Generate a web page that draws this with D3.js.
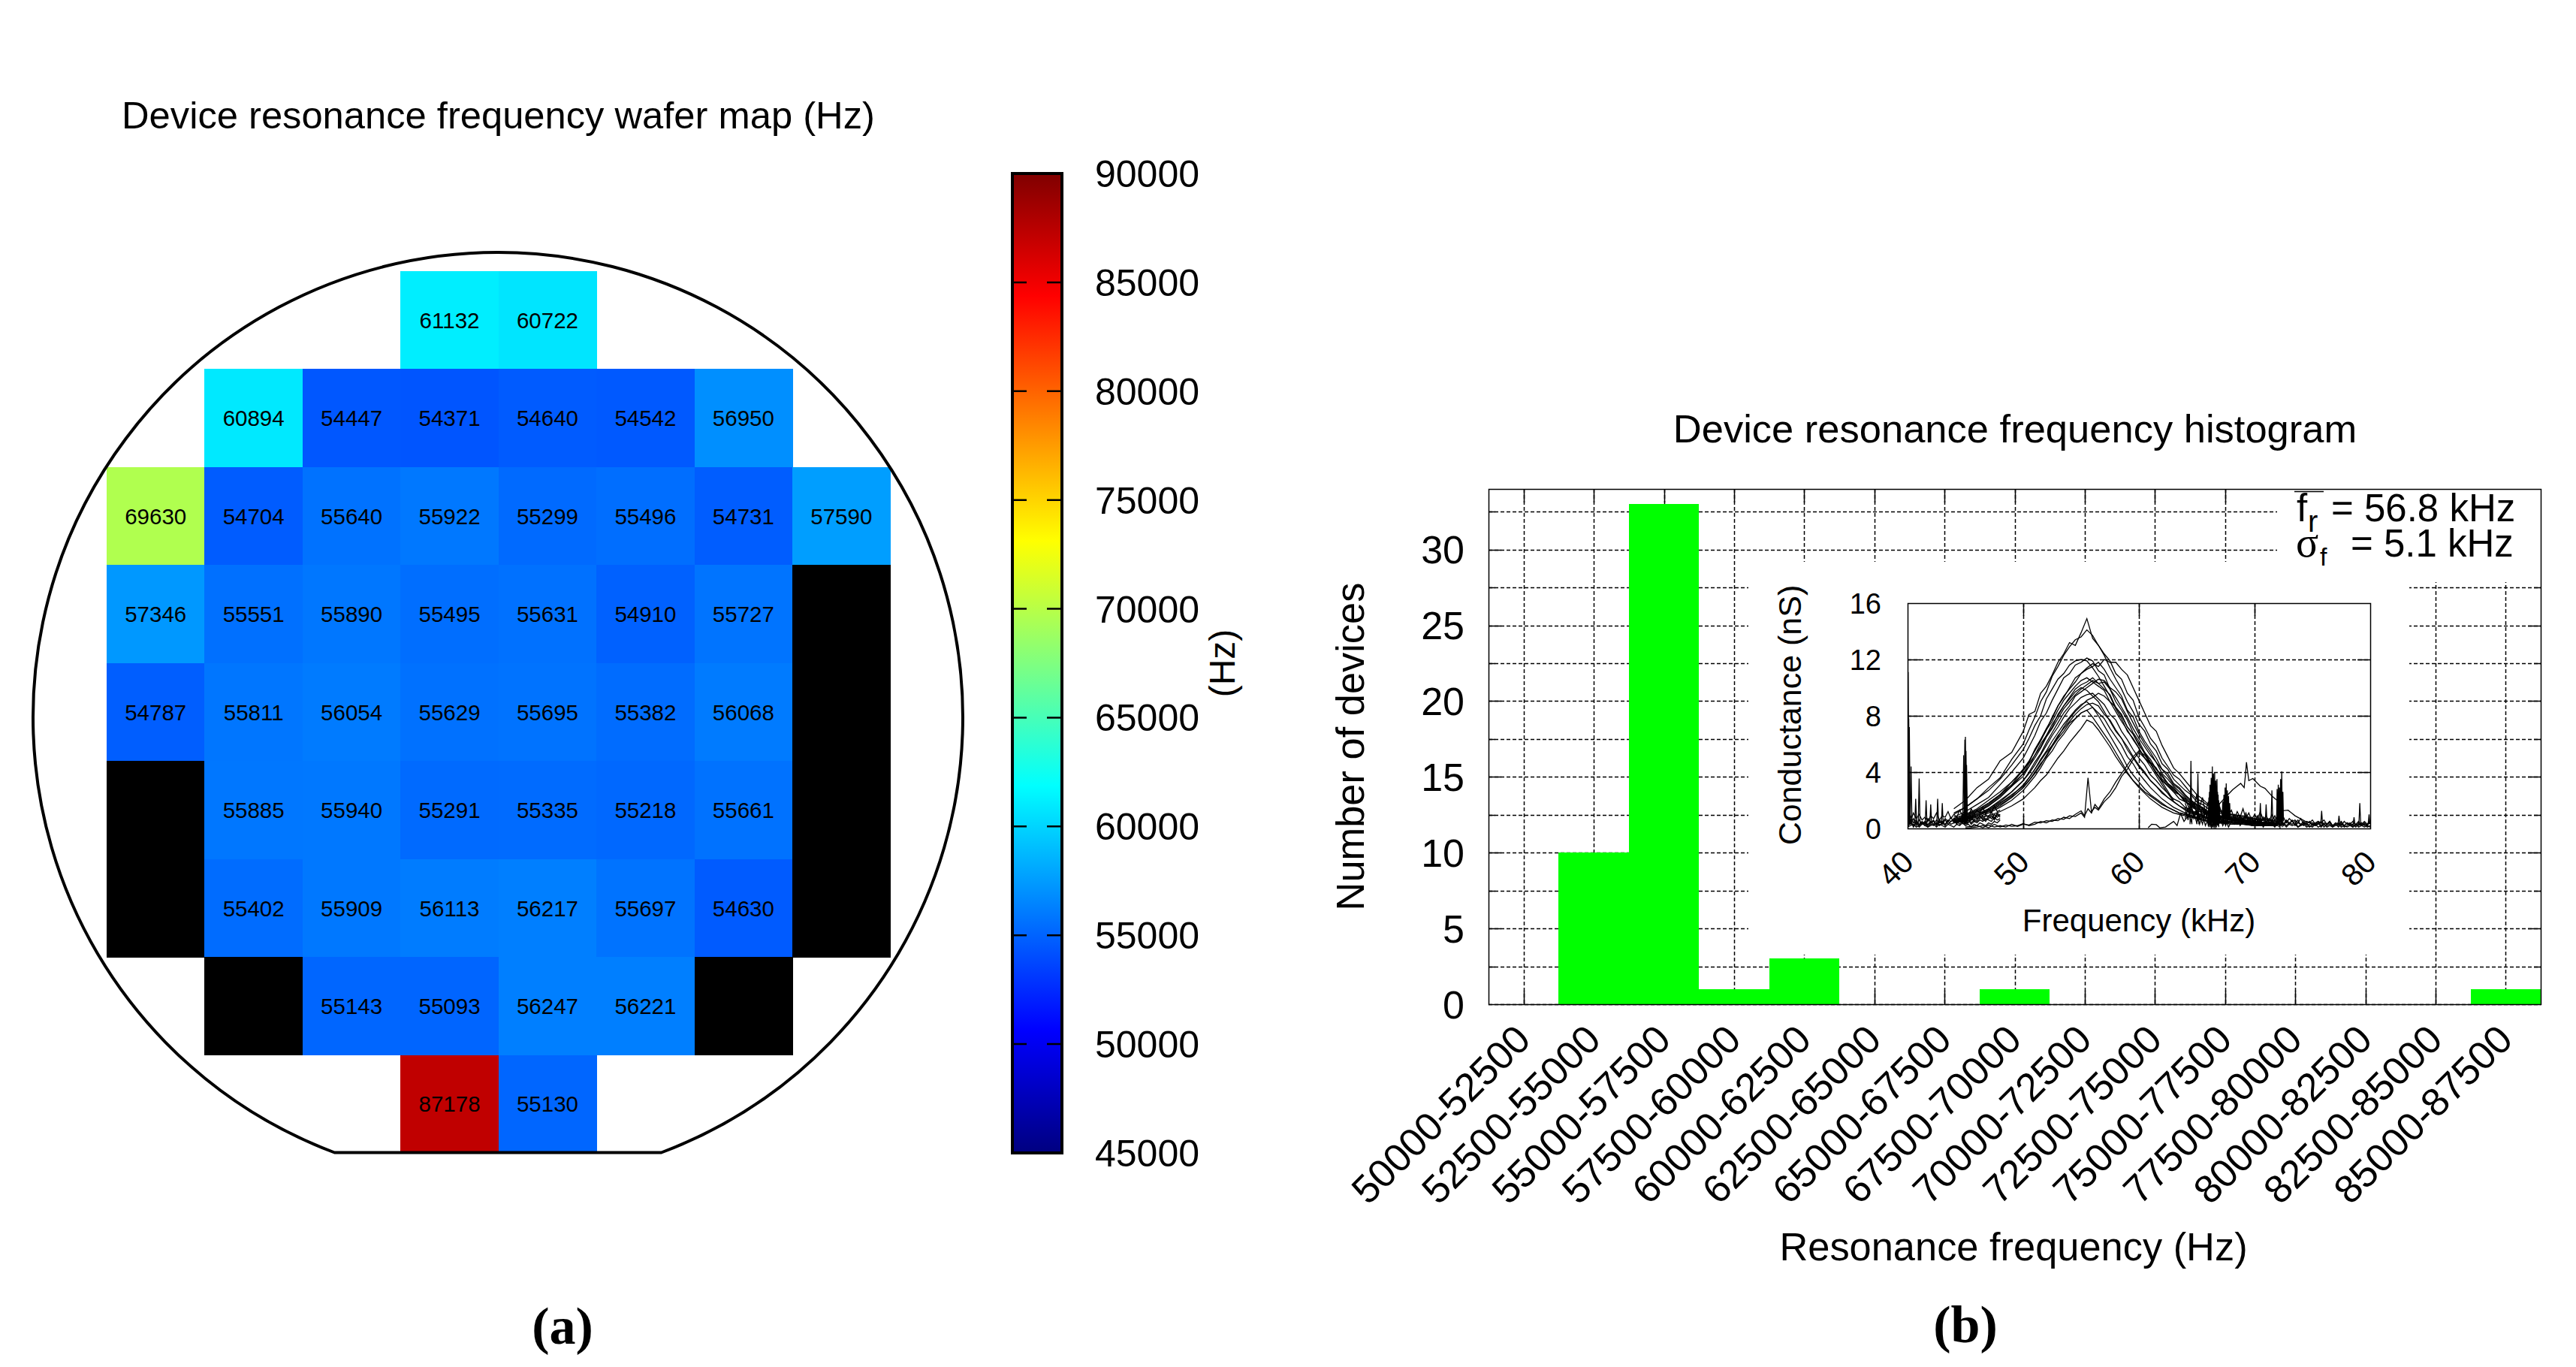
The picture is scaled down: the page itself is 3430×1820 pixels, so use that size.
<!DOCTYPE html>
<html><head><meta charset="utf-8">
<script src="https://cdn.jsdelivr.net/npm/d3@7"></script>
<style>
html,body{margin:0;padding:0;background:#fff}
text{font-family:"Liberation Sans",Arial,sans-serif;fill:#000}
</style></head><body>
<svg id="c" width="3430" height="1820" xmlns="http://www.w3.org/2000/svg"></svg>
<script>
// ---- wafer map data (null = no device, -1 = dead device drawn black)
const row0=[null,null,null,61132,60722,null,null,null];
const row1=[null,60894,54447,54371,54640,54542,56950,null];
const row2=[69630,54704,55640,55922,55299,55496,54731,57590];
const row3=[57346,55551,55890,55495,55631,54910,55727,-1];
const row4=[54787,55811,56054,55629,55695,55382,56068,-1];
const row5=[-1,55885,55940,55291,55335,55218,55661,-1];
const row6=[-1,55402,55909,56113,56217,55697,54630,-1];
const row7=[null,-1,55143,55093,56247,56221,-1,null];
const row8=[null,null,null,87178,55130,null,null,null];
const waferRows=[row0,row1,row2,row3,row4,row5,row6,row7,row8];
const colorTicks=[45000,50000,55000,60000,65000,70000,75000,80000,85000,90000];
const jetStops=[45000,50625,61875,73125,84375,90000];
const jetColors=["#000080","#0000ff","#00ffff","#ffff00","#ff0000","#800000"];

// ---- histogram data
const histBins=["50000-52500","52500-55000","55000-57500","57500-60000","60000-62500","62500-65000","65000-67500","67500-70000","70000-72500","72500-75000","75000-77500","77500-80000","80000-82500","82500-85000","85000-87500"];
const histCounts=[0,10,33,1,3,0,0,1,0,0,0,0,0,0,1];
const histYMajor=[0,5,10,15,20,25,30];
const histYMinor=[2.5,7.5,12.5,17.5,22.5,27.5,32.5];

// ---- inset data (kHz, nS)
const insetXTicks=[40,50,60,70,80];
const insetYTicks=[0,4,8,12,16];
const mainF=[44,45,46,47,48,49,50,50.5,51,51.5,52,52.5,53,53.5,54,54.5,55,55.5,56,56.5,57,57.5,58,58.5,59,59.5,60,60.5,61,61.5,62,62.5,63,63.5,64,64.5,65,65.5,66,67,68,69,70,71,72];
const c1=[1.4,2.0,2.9,3.5,4.8,5.4,6.9,8.1,8.3,9.6,10.1,10.9,11.8,12.4,13.2,13.0,13.9,14.9,13.5,13.0,12.4,11.9,11.0,10.6,9.6,9.1,7.9,7.2,6.4,5.9,5.0,4.4,3.8,3.5,3.0,2.5,2.1,1.9,1.6,1.2,1.0,.8,.6,.7,.5];
const c2=[1.0,1.5,2.1,2.9,3.6,4.9,6.0,7.0,7.9,9.0,9.7,10.8,11.5,12.3,12.9,13.4,13.6,14.1,13.7,13.0,12.3,11.4,10.6,9.9,9.0,8.3,7.4,6.9,6.0,5.5,4.6,4.2,3.5,3.1,2.7,2.4,1.9,1.7,1.4,1.1,.9,.7,.7,.5,.4];
const c3=[.7,1.0,1.3,1.8,2.4,3.1,4.2,4.7,5.6,6.3,7.0,7.9,8.7,9.3,10.0,10.7,11.0,11.4,11.7,11.5,12.0,11.8,11.8,11.3,10.9,10.0,9.1,8.2,7.3,6.9,5.9,5.1,4.3,3.9,3.4,2.9,2.4,2.1,1.7,1.3,1.0,.9,.7,.6,.5];
const c4=[1.1,1.5,2.1,2.7,3.5,4.5,5.6,6.4,7.3,8.0,9.2,9.9,10.6,11.0,11.6,11.9,12.0,11.9,11.4,10.8,10.1,9.4,8.5,7.8,6.9,6.4,5.7,5.0,4.6,4.0,3.4,3.1,2.6,2.4,1.9,1.6,1.4,1.2,.9,.8,.7,.5,.5,.4,.3];
const c5=[.8,1.2,1.7,2.2,3.1,4.0,5.0,5.8,6.6,7.6,8.2,9.1,9.9,10.7,11.0,11.6,11.8,12.1,11.9,11.2,10.9,9.9,9.0,8.4,7.7,6.8,6.2,5.4,4.9,4.2,3.8,3.2,2.9,2.4,2.1,1.8,1.5,1.3,1.1,.8,.7,.6,.5,.4,.3];
const c6=[.6,.9,1.3,1.8,2.4,3.3,4.1,4.7,5.6,6.3,7.1,7.8,8.7,9.4,9.9,10.4,11.0,11.3,11.5,11.8,11.3,10.6,10.0,9.4,8.4,7.9,6.9,6.2,5.6,5.0,4.2,3.9,3.2,2.9,2.4,2.0,1.7,1.5,1.2,.9,.8,.6,.5,.4,.4];
const c7=[.7,1.0,1.4,2.0,2.6,3.3,4.2,4.8,5.5,6.2,7.0,7.6,8.4,9.1,9.6,10.1,10.5,10.7,10.4,10.1,9.8,9.0,8.3,7.6,7.0,6.3,5.7,5.0,4.6,3.9,3.4,3.0,2.6,2.1,1.9,1.6,1.3,1.1,.9,.7,.6,.5,.4,.4,.3];
const c8=[.6,.8,1.1,1.6,2.2,3.0,3.9,4.4,5.2,5.8,6.6,7.2,8.1,8.7,9.3,9.9,10.2,10.4,10.7,10.3,9.9,9.5,8.6,8.1,7.2,6.7,5.9,5.4,4.7,4.3,3.5,3.2,2.7,2.4,1.9,1.7,1.4,1.2,1.0,.8,.6,.5,.4,.3,.3];
const c9=[.5,.8,1.0,1.4,2.0,2.6,3.4,4.0,4.7,5.3,6.1,6.8,7.5,8.2,8.7,9.4,9.7,10.0,10.3,10.6,10.5,10.0,9.7,9.2,8.3,7.5,6.7,6.0,5.4,4.7,4.2,3.7,3.1,2.8,2.3,2.0,1.7,1.4,1.1,.9,.7,.6,.5,.4,.3];
const c10=[.6,.9,1.2,1.7,2.4,3.1,3.9,4.6,5.2,6.0,6.6,7.4,8.0,8.7,9.2,9.7,10.0,9.8,9.4,9.0,8.3,7.6,6.9,6.4,5.6,5.0,4.4,3.9,3.4,3.0,2.5,2.2,1.9,1.6,1.4,1.1,1.0,.8,.7,.5,.5,.4,.3,.3,.2];
const c11=[.5,.7,1.0,1.4,1.9,2.6,3.4,3.9,4.5,5.2,5.9,6.6,7.2,7.9,8.5,8.9,9.3,9.5,9.6,9.2,8.8,8.1,7.7,6.9,6.3,5.6,5.0,4.5,3.8,3.4,2.9,2.5,2.1,1.9,1.5,1.3,1.1,.9,.8,.6,.5,.4,.4,.3,.2];
const c12=[.4,.6,.9,1.2,1.7,2.2,2.9,3.4,3.9,4.5,5.2,5.9,6.5,7.2,7.8,8.3,8.7,9.1,9.3,9.6,9.4,9.0,8.6,8.0,7.2,6.7,6.0,5.3,4.7,4.2,3.7,3.2,2.8,2.4,2.0,1.8,1.5,1.3,1.0,.8,.6,.5,.4,.3,.3];
const c13=[.5,.7,1.0,1.3,1.8,2.4,3.0,3.6,4.2,4.9,5.5,6.2,6.8,7.4,7.9,8.4,8.8,9.0,8.6,8.0,7.3,6.6,5.9,5.2,4.4,3.8,3.3,2.8,2.4,2.1,1.8,1.5,1.3,1.1,1.0,.9,.7,.6,.5,.5,.4,.3,.3,.2,.2];
const c14=[.4,.6,.8,1.1,1.5,2.0,2.7,3.2,3.7,4.3,5.0,5.5,6.2,6.7,7.3,7.8,8.2,8.4,8.6,8.2,7.8,7.1,6.5,5.9,5.1,4.6,3.9,3.4,2.9,2.5,2.1,1.8,1.5,1.3,1.1,.9,.8,.7,.5,.4,.4,.3,.2,.2,.2];
const c15=[.5,.6,.9,1.2,1.6,2.2,2.9,3.4,4.0,4.6,5.1,5.8,6.4,6.9,7.5,7.8,8.2,8.4,7.9,7.3,6.7,6.1,5.4,4.7,4.0,3.4,2.9,2.5,2.1,1.8,1.5,1.3,1.1,1.0,.9,.8,.7,.6,.5,.4,.3,.3,.2,.2,.2];
const c16=[.4,.5,.7,.9,1.2,1.6,2.1,2.5,2.9,3.4,3.8,4.4,5.0,5.5,6.1,6.6,7.1,7.7,7.5,7.0,6.4,5.8,5.1,4.5,3.9,3.4,3.0,2.6,2.3,2.0,1.7,1.5,1.3,1.1,1.0,.9,.8,.6,.5,.4,.4,.3,.3,.2,.2];
const c17=[.6,.8,1.2,1.6,2.3,3.0,3.7,4.4,5.0,5.7,6.5,7.1,7.8,8.5,9.0,9.5,9.9,10.2,10.5,10.3,10.4,9.9,9.3,8.6,7.9,7.1,6.4,5.8,5.2,4.7,3.9,3.5,3.0,2.6,2.2,1.9,1.6,1.4,1.2,.9,.7,.6,.5,.4,.3];
const c18=[.4,.7,.9,1.3,1.8,2.3,3.1,3.6,4.2,4.8,5.4,5.9,6.6,7.1,7.6,8.1,8.5,8.8,8.9,8.7,8.1,7.7,7.0,6.4,5.8,5.1,4.5,4.0,3.4,3.0,2.6,2.2,1.9,1.6,1.3,1.2,1.0,.8,.7,.5,.4,.4,.3,.3,.2];
const mainCurves=[c1,c2,c3,c4,c5,c6,c7,c8,c9,c10,c11,c12,c13,c14,c15,c16,c17,c18];

// two late-resonating devices
const lateF=[45,46,46.5,47,47.5,48,48.5,49,49.5,50,50.5,51,51.5,52,52.5,53,53.5,54,54.5,55,55.3,55.6,55.9,56.2,56.5,57,57.5,58,58.5,59,59.5,60,60.5,61,62,63];
const lateA=[.1,.2,.05,.25,.1,.2,.1,.3,.15,.3,.25,.45,.4,.55,.5,.7,.65,.9,.85,1.1,.8,3.6,1.2,1.5,1.3,1.9,2.3,2.9,3.7,4.2,4.9,5.4,5.0,4.4,3.1,1.9];
const lateB=[0,.1,.2,.05,.3,.1,.25,.15,.2,.35,.2,.3,.5,.4,.6,.55,.8,.7,1.0,1.25,.9,1.4,1.1,1.7,1.4,2.1,2.6,3.3,3.9,4.5,5.1,5.5,5.2,4.6,3.3,2.0];
// device near 70 kHz
const highF=[60.8,61.1,61.5,61.8,62.3,63,63.3,63.6,63.9,64.4,64.9,65.5,66.2,66.8,67.7,68.1,68.8,69.1,69.2,69.3,69.5,69.85,70.5,70.9,71.5,71.8,72,72.3,72.9,73.5,74.4,75.5];
const highV=[.05,.3,.27,.05,.1,.5,.2,1.07,.5,1.07,1.2,.9,1.3,1.6,2.4,2.75,3.2,2.9,3.7,4.7,3.4,3.55,3.0,2.85,2.3,2.1,1.95,1.25,1.3,.9,.5,.3];

// baseline noise below 48 kHz
const lowF=[40,40.25,40.5,40.75,41,41.25,41.5,41.75,42,42.25,42.5,42.75,43,43.25,43.5,43.75,44,44.25,44.5,44.75,45,45.25,45.5,45.75,46,46.25,46.5,46.75,47,47.25,47.5,47.75,48];
const n1=[.3,.9,.4,.6,.2,.5,.3,.7,.4,.5,.3,.6,.4,.7,.5,.8,.4,.7,.6,.9,.5,.8,.6,1.0,.7,.9,.6,1.0,.8,1.2,.7,1.1,.9];
const n2=[.1,.4,.2,.5,.3,.4,.2,.3,.5,.3,.6,.4,.5,.3,.6,.5,.7,.4,.5,.7,.6,.4,.8,.5,.6,.9,.7,.5,.9,.7,1.0,.8,1.0];
const n3=[.6,.3,.7,.2,.6,.3,.5,.2,.4,.6,.2,.5,.3,.6,.3,.5,.6,.3,.7,.4,.6,.8,.4,.6,.5,.7,.9,.6,.7,.9,.6,1.0,.8];
const n4=[.2,.6,.1,.4,.1,.3,.4,.1,.3,.2,.4,.2,.4,.2,.5,.3,.4,.5,.3,.5,.4,.6,.3,.5,.4,.6,.5,.7,.6,.5,.8,.6,.7];
const n5=[.9,.5,1.1,.7,1.0,.6,.8,.5,.9,.7,1.1,.6,.9,.8,1.2,.7,1.0,.8,1.3,.9,1.2,.8,1.4,1.0,1.3,1.1,1.5,1.0,1.4,1.1,1.6,1.2,1.3];
const n6=[.1,.2,.3,.1,.2,.4,.2,.1,.2,.3,.1,.3,.2,.1,.3,.2,.1,.3,.2,.4,.2,.3,.1,.3,.2,.4,.3,.2,.4,.3,.5,.4,.6];
const lowNoise=[n1,n2,n3,n4,n5,n6];

// baseline noise above 64 kHz
const tailF=[64,64.25,64.5,64.75,65,65.25,65.5,65.75,66,66.25,66.5,66.75,67,67.25,67.5,67.75,68,68.25,68.5,68.75,69,69.25,69.5,69.75,70,70.25,70.5,70.75,71,71.25,71.5,71.75,72,72.25,72.5,72.75,73,73.25,73.5,73.75,74,74.25,74.5,74.75,75,75.25,75.5,75.75,76,76.25,76.5,76.75,77,77.25,77.5,77.75,78,78.25,78.5,78.75,79,79.25,79.5,79.75,80];
const h1=[1.8,1.2,2.1,1.4,2.4,1.5,2.2,1.1,1.9,1.0,1.7,.9,1.5,.8,1.6,.9,1.3,.7,1.2,.8,1.4,.7,1.1,.6,1.0,.7,1.2,.6,.9,.5,1.0,.6,.9,.5,.8,.4,.7,.5,.6,.4,.7,.3,.5,.4,.6,.3,.5,.4,.6,.3,.5,.2,.4,.3,.5,.2,.4,.3,.5,.2,.4,.3,.5,.3,.6];
const h2=[1.2,.8,1.6,.9,1.3,.7,1.5,.6,1.2,.5,1.0,.4,.9,.5,1.1,.4,.8,.5,.9,.3,.7,.4,.8,.3,.6,.4,.7,.2,.5,.3,.6,.2,.5,.3,.4,.2,.4,.3,.5,.1,.3,.2,.4,.1,.3,.2,.4,.1,.3,.2,.3,.1,.3,.2,.4,.1,.2,.3,.1,.3,.2,.4,.2,.3,.4];
const h3=[.7,1.4,.5,1.1,.4,.9,.3,1.3,.2,.8,.3,1.1,.4,.7,.2,.9,.5,.6,.3,.8,.4,.9,.5,.7,.3,.6,.4,.8,.3,.5,.2,.6,.3,.7,.2,.5,.3,.6,.2,.4,.3,.5,.2,.3,.4,.2,.3,.5,.1,.3,.4,.2,.3,.1,.3,.2,.4,.2,.3,.1,.3,.2,.3,.1,.2];
const h4=[1.5,.6,1.9,.7,1.2,.3,1.0,.2,.7,.1,.6,.3,.8,.2,.6,.1,.5,.3,.7,.2,.5,.3,.6,.2,.4,.2,.5,.1,.4,.2,.3,.1,.4,.2,.3,.1,.3,.2,.3,.1,.2,.3,.1,.2,.1,.3,.1,.2,.3,.1,.2,.1,.2,.3,.1,.2,.1,.2,.1,.3,.1,.2,.1,.2,.1];
const h5=[2.2,1.6,1.3,1.8,1.0,1.4,.8,1.2,.6,1.1,.8,1.3,.6,1.0,.7,1.2,.6,1.0,.5,.9,.6,1.1,.5,.8,.4,.9,.5,.8,.4,.7,.5,.9,.4,.7,.3,.6,.4,.5,.3,.6,.2,.4,.3,.5,.2,.4,.5,.2,.4,.3,.5,.2,.3,.4,.2,.5,.3,.4,.2,.3,.5,.2,.4,.2,.5];
const tailNoise=[h1,h2,h3,h4,h5];

// dense bursts
const burstAF=[66,66.05,66.1,66.15,66.2,66.25,66.3,66.35,66.4,66.45,66.5,66.55,66.6,66.65,66.7,66.75,66.8,66.85,66.9,66.95,67];
const burstA=[.3,2.2,.1,3.1,.2,3.6,0,4.4,.1,3.9,0,4.0,.2,3.4,.1,3.5,.2,2.4,.1,1.8,.4];
const burstA2=[1.5,.2,2.6,.3,3.0,.1,3.4,.4,3.6,.2,3.3,.1,3.0,0,2.9,.3,2.6,.2,2.0,.4,1.4];
const burstBF=[67.2,67.25,67.3,67.35,67.4,67.45,67.5,67.55,67.6,67.65,67.7,67.75,67.8,67.85,67.9];
const burstB=[.8,1.9,.4,2.4,.5,2.9,.6,3.2,.4,2.7,.5,2.3,.6,1.8,.7];
const burstCF=[71.9,71.95,72,72.05,72.1,72.15,72.2,72.25,72.3,72.35,72.4,72.45,72.5];
const burstC=[.3,2.8,.2,3.1,.1,2.9,0,3.5,.2,4.05,.1,2.6,.5];
const spikeF=[40.05,40.1,40.15,40.3,40.7,41,41.6,42,42.6,43,44.85,44.95,45,45.05,45.1,64.5,65.1,70.5,71,71.5,75.8,77.3,78.6,79.1,79.9];
const spikeV=[11.1,7.8,7.2,4.4,2.1,3.55,2,1.7,2.1,1.8,5.2,6.3,6.5,5.5,4.5,4.8,3.9,1.8,1.7,2.7,1.25,.9,.8,1.8,1];

// ---- drawing
const svg=d3.select("#c");
const px=v=>Math.round(v)+.5;
const label=(x,y,t,size,anchor,rot)=>{
  const e=svg.append("text").attr("text-anchor",anchor||"start").style("font-size",size+"px").text(t);
  e.attr("transform",`translate(${x},${y})`+(rot?` rotate(${rot})`:""));
  return e;
};

// (a) wafer
const jet=d3.scaleLinear().domain(jetStops).range(jetColors).clamp(true);
const wx=d3.scaleBand().domain(d3.range(8)).range([142,1185.5]);
const wy=d3.scaleBand().domain(d3.range(9)).range([361,1535]);
const cells=waferRows.flatMap((r,j)=>r.map((v,i)=>({i,j,v}))).filter(d=>d.v!==null);
const gw=svg.append("g");
gw.selectAll("rect").data(cells).join("rect")
  .attr("x",d=>wx(d.i)).attr("y",d=>wy(d.j)).attr("width",wx.bandwidth()+.5).attr("height",wy.bandwidth()+.5)
  .attr("fill",d=>d.v<0?"#000":jet(d.v)).attr("shape-rendering","crispEdges");
gw.selectAll("text").data(cells.filter(d=>d.v>0)).join("text")
  .attr("x",d=>wx(d.i)+wx.bandwidth()/2).attr("y",d=>wy(d.j)+wy.bandwidth()/2).attr("dy",".36em")
  .attr("text-anchor","middle").style("font-size","29.5px").text(d=>d.v);
// outline: circle with a flat at the bottom
const cx=663,cy=955,R=619,flat=1534.5;
const a0=Math.asin((flat-cy)/R);
const op=d3.path();
op.arc(cx,cy,R,a0,Math.PI-a0,true);
op.closePath();
svg.append("path").attr("d",op.toString()).attr("fill","none").attr("stroke","#000").attr("stroke-width",4);
label(162,171,"Device resonance frequency wafer map (Hz)",50.7);

// colour bar
const yC=d3.scaleLinear().domain([45000,90000]).range([1535,231]);
const defs=svg.append("defs");
const grad=defs.append("linearGradient").attr("id","jet").attr("x1",0).attr("x2",0).attr("y1",1).attr("y2",0);
grad.selectAll("stop").data(jetStops).join("stop")
  .attr("offset",d=>(d-45000)/45000).attr("stop-color",d=>jet(d));
svg.append("rect").attr("x",1348).attr("y",yC(90000)).attr("width",66).attr("height",yC(45000)-yC(90000))
  .attr("fill","url(#jet)").attr("stroke","#000").attr("stroke-width",4);
const inner=colorTicks.slice(1,-1);
svg.append("g").selectAll("path").data(inner).join("path")
  .attr("d",d=>`M1350,${yC(d)}H1367M1394,${yC(d)}H1412`).attr("stroke","#000").attr("stroke-width",2.5);
const cAxis=svg.append("g").attr("transform","translate(1458,0)")
  .call(d3.axisRight(yC).tickValues(colorTicks).tickFormat(d3.format("d")).tickSize(0).tickPadding(0));
cAxis.select(".domain").remove();
cAxis.selectAll("text").attr("fill","#000").attr("dy",".35em").style("font-size","50px").style("font-family","Liberation Sans");
label(1644,883,"(Hz)",48,"middle",-90);

// (b) histogram
const hx=d3.scaleBand().domain(histBins).range([1982,3383]);
const hy=d3.scaleLinear().domain([0,34]).range([1337,651]);
const gridStyle=s=>s.attr("stroke","#000").attr("stroke-width",1.5).attr("stroke-dasharray","5 3").attr("fill","none");
const tickStyle=s=>s.attr("stroke","#000").attr("stroke-width",1.5).attr("fill","none");
const allY=histYMajor.concat(histYMinor);
svg.append("g").selectAll("path").data(allY).join("path")
  .attr("d",d=>`M1982,${px(hy(d))}H3383`).call(gridStyle);
svg.append("g").selectAll("path").data(histBins).join("path")
  .attr("d",d=>`M${px(hx(d)+hx.bandwidth()/2)},651V1337`).call(gridStyle);
svg.append("g").selectAll("path").data(allY.filter(d=>d>0)).join("path")
  .attr("d",d=>{const l=histYMajor.includes(d)?17:9;return `M1982,${px(hy(d))}h${l}M3383,${px(hy(d))}h${-l}`;}).call(tickStyle);
svg.append("g").selectAll("path").data(histBins).join("path")
  .attr("d",d=>{const x=px(hx(d)+hx.bandwidth()/2);return `M${x},651v18M${x},1337v-18`;}).call(tickStyle);
// white patches behind inset and statistics
svg.append("rect").attr("x",2328).attr("y",748).attr("width",880).attr("height",523).attr("fill","#fff");
svg.append("rect").attr("x",3032).attr("y",652).attr("width",351).attr("height",123).attr("fill","#fff");
svg.append("g").selectAll("rect").data(histCounts.map((v,i)=>({v,b:histBins[i]})).filter(d=>d.v>0)).join("rect")
  .attr("x",d=>hx(d.b)).attr("y",d=>hy(d.v)).attr("width",hx.bandwidth()).attr("height",d=>hy(0)-hy(d.v))
  .attr("fill","#00ff00").attr("shape-rendering","crispEdges");
svg.append("rect").attr("x",1982.5).attr("y",651.5).attr("width",1401).attr("height",686).call(tickStyle);
const hyAxis=svg.append("g").attr("transform","translate(1950,0)")
  .call(d3.axisLeft(hy).tickValues(histYMajor).tickSize(0).tickPadding(0));
hyAxis.select(".domain").remove();
hyAxis.selectAll("text").attr("fill","#000").attr("dy",".35em").style("font-size","52px").style("font-family","Liberation Sans");
const hxAxis=svg.append("g").attr("transform","translate(0,1337)")
  .call(d3.axisBottom(hx).tickSize(0));
hxAxis.select(".domain").remove();
hxAxis.selectAll("text").attr("fill","#000").attr("y",0).attr("dy",0).attr("text-anchor","end")
  .attr("transform","translate(12,50) rotate(-45)").style("font-size","52.5px").style("font-family","Liberation Sans");
label(2683,589,"Device resonance frequency histogram",52.5,"middle");
label(2681,1678,"Resonance frequency (Hz)",52.4,"middle");
label(1816,994,"Number of devices",52.4,"middle",-90);

// statistics
const st1=svg.append("text").attr("y",694).style("font-size","51px");
st1.append("tspan").attr("x",3058).text("f");
st1.append("tspan").attr("x",3073).attr("dy",14).style("font-size","40px").text("r");
st1.append("tspan").attr("x",3104).attr("dy",-14).text("= 56.8 kHz");
svg.append("line").attr("x1",3055).attr("x2",3094).attr("y1",654.5).attr("y2",654.5).call(tickStyle);
const st2=svg.append("text").attr("y",741).style("font-size","51px");
st2.append("tspan").attr("x",3057).style("font-family","Liberation Serif").style("font-size","56px").text("σ");
st2.append("tspan").attr("x",3089).attr("dy",12).style("font-size","34px").text("f");
st2.append("tspan").attr("x",3130).attr("dy",-12).text("= 5.1 kHz");

// inset
const ix=d3.scaleLinear().domain([40,80]).range([2540,3156]);
const iy=d3.scaleLinear().domain([0,16]).range([1103,803]);
svg.append("g").selectAll("path").data(insetXTicks.slice(1,-1)).join("path")
  .attr("d",d=>`M${px(ix(d))},803V1103`).call(gridStyle);
svg.append("g").selectAll("path").data(insetYTicks.slice(1,-1)).join("path")
  .attr("d",d=>`M2540,${px(iy(d))}H3156`).call(gridStyle);
defs.append("clipPath").attr("id","ic").append("rect").attr("x",2540).attr("y",803).attr("width",616).attr("height",300);
const line=d3.line().x(d=>ix(d[0])).y(d=>iy(d[1]));
const traces=[];
mainCurves.forEach(c=>traces.push(d3.zip(mainF,c)));
traces.push(d3.zip(lateF,lateA),d3.zip(lateF,lateB),d3.zip(highF,highV));
lowNoise.forEach(c=>traces.push(d3.zip(lowF,c)));
tailNoise.forEach(c=>traces.push(d3.zip(tailF,c)));
traces.push(d3.zip(burstAF,burstA),d3.zip(burstAF,burstA2),d3.zip(burstBF,burstB),d3.zip(burstCF,burstC));
spikeF.forEach((f,i)=>traces.push([[f-.08,.3],[f,spikeV[i]],[f+.08,.3]]));
svg.append("g").attr("clip-path","url(#ic)").selectAll("path").data(traces).join("path")
  .attr("d",line).attr("fill","none").attr("stroke","#000").attr("stroke-width",1.3);
svg.append("g").selectAll("path").data(insetYTicks.slice(1,-1)).join("path")
  .attr("d",d=>`M2540,${px(iy(d))}h17M3156,${px(iy(d))}h-17`).call(tickStyle);
svg.append("g").selectAll("path").data(insetXTicks.slice(1,-1)).join("path")
  .attr("d",d=>`M${px(ix(d))},803v17M${px(ix(d))},1103v-17`).call(tickStyle);
svg.append("rect").attr("x",2540.5).attr("y",803.5).attr("width",616).attr("height",300).call(tickStyle);
const iyAxis=svg.append("g").attr("transform","translate(2505,0)")
  .call(d3.axisLeft(iy).tickValues(insetYTicks).tickSize(0).tickPadding(0));
iyAxis.select(".domain").remove();
iyAxis.selectAll("text").attr("fill","#000").attr("dy",".35em").style("font-size","38px").style("font-family","Liberation Sans");
const ixAxis=svg.append("g").attr("transform","translate(0,1103)")
  .call(d3.axisBottom(ix).tickValues(insetXTicks).tickSize(0));
ixAxis.select(".domain").remove();
ixAxis.selectAll("text").attr("fill","#000").attr("y",0).attr("dy",0).attr("text-anchor","end")
  .attr("transform","translate(10,47) rotate(-45)").style("font-size","41px").style("font-family","Liberation Sans");
label(2848,1240,"Frequency (kHz)",42,"middle");
label(2398,952,"Conductance (nS)",43,"middle",-90);

// panel letters
["(a)","(b)"].forEach((t,i)=>{
  label(i?2617:749,i?1787:1789,t,70,"middle").style("font-family","Liberation Serif").style("font-weight","bold");
});
</script>
</body></html>
